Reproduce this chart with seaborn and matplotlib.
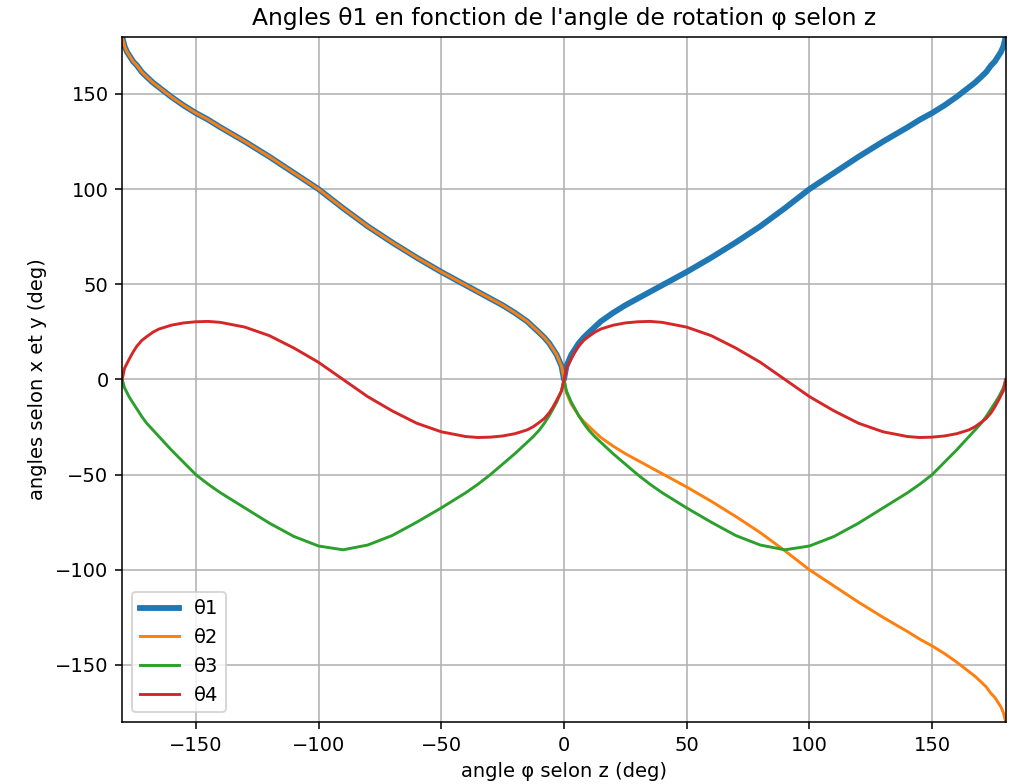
import matplotlib
matplotlib.use("Agg")
import matplotlib.pyplot as plt
import seaborn as sns

# rotation angle phi (deg), negative half and positive half
phi_neg = [-180, -179, -178, -177, -175.5, -174, -172, -170, -167.5, -165, -160, -155, -150, -145,
           -140, -130, -120, -110, -100, -90, -80, -70, -60, -50, -40, -35, -30, -25, -20, -15,
           -12.5, -10, -8, -6, -4.5, -3, -2, -1]
phi_pos = [0, 1, 2, 3, 4.5, 6, 8, 10, 12.5, 15, 20, 25, 30, 35, 40, 50, 60, 70, 80, 90, 100, 110,
           120, 130, 140, 145, 150, 155, 160, 165, 167.5, 170, 172, 174, 175.5, 177, 178, 179, 180]

theta1_neg = [180, 175, 172, 170, 167, 165, 161.5, 159, 156, 153.5, 148.5, 144, 140, 136.5, 132.5,
              125, 117, 108.5, 100, 90, 80.5, 72, 64, 56.5, 49.5, 46, 42.5, 39, 35, 30.5, 27.5,
              24.5, 22, 19, 16, 13, 10, 7]
theta1_pos = [0, 7, 10, 13, 16, 19, 22, 24.5, 27.5, 30.5, 35, 39, 42.5, 46, 49.5, 56.5, 64, 72,
              80.5, 90, 100, 108.5, 117, 125, 132.5, 136.5, 140, 144, 148.5, 153.5, 156, 159,
              161.5, 165, 167, 170, 172, 175, 180]

theta2_neg = [180, 175, 172, 170, 167, 165, 161.5, 159, 156, 153.5, 148.5, 144, 140, 136.5, 132.5,
              125, 117, 108.5, 100, 90, 80.5, 72, 64, 56.5, 49.5, 46, 42.5, 39, 35, 30.5, 27.5,
              24.5, 22, 19, 16, 13, 10, 7]
theta2_pos = [0, -7, -10, -13, -16, -19, -22, -24.5, -27.5, -30.5, -35, -39, -42.5, -46, -49.5,
              -56.5, -64, -72, -80.5, -90, -100, -108.5, -117, -125, -132.5, -136.5, -140, -144,
              -148.5, -153.5, -156, -159, -161.5, -165, -167, -170, -172, -175, -180]

theta3_neg = [0, -4.5, -7, -9.5, -12.5, -15.5, -19.5, -23, -26.5, -30, -37, -43.5, -50, -55, -59.5,
              -67.5, -75.5, -82.5, -87.5, -89.5, -87, -82, -75, -67.5, -59.5, -55, -50, -44.5,
              -39, -33, -30, -26.5, -23, -19, -15.5, -12, -9, -6]
theta3_pos = [0, -6, -9, -12, -15.5, -19, -23, -26.5, -30, -33, -39, -44.5, -50, -55, -59.5, -67.5,
              -75, -82, -87, -89.5, -87.5, -82.5, -75.5, -67.5, -59.5, -55, -50, -43.5, -37, -30,
              -26.5, -23, -19.5, -15.5, -12.5, -9.5, -7, -4.5, 0]

theta4_neg = [0, 6, 8.5, 11, 14.5, 17.5, 20.5, 22.5, 24.8, 26.5, 28.5, 29.7, 30.3, 30.5, 30, 27.5,
              23, 16.5, 9, 0, -9, -16.5, -23, -27.5, -30, -30.5, -30.3, -29.7, -28.5, -26.5,
              -24.8, -22.5, -20.5, -17.5, -14.5, -11, -8.5, -6]
theta4_pos = [0, 6, 8.5, 11, 14.5, 17.5, 20.5, 22.5, 24.8, 26.5, 28.5, 29.7, 30.3, 30.5, 30, 27.5,
              23, 16.5, 9, 0, -9, -16.5, -23, -27.5, -30, -30.5, -30.3, -29.7, -28.5, -26.5,
              -24.8, -22.5, -20.5, -17.5, -14.5, -11, -8.5, -6, 0]

labels = ["θ1", "θ2", "θ3", "θ4"]
colors = ["C0", "C1", "C2", "C3"]
widths = [3, 1.5, 1.5, 1.5]

phi = phi_neg + phi_pos
series = [theta1_neg + theta1_pos, theta2_neg + theta2_pos,
          theta3_neg + theta3_pos, theta4_neg + theta4_pos]

fig = plt.figure(figsize=(1018 / 140, 784 / 140), dpi=140)
ax = fig.add_axes([0.120, 0.079, 0.868, 0.874])

for vals, lab, col, lw in zip(series, labels, colors, widths):
    sns.lineplot(x=phi, y=vals, ax=ax, color=col, linewidth=lw, label=lab)

ax.set_xlim(-180, 180)
ax.set_ylim(-180, 180)
ax.grid(True)
ax.set_title("Angles θ1 en fonction de l'angle de rotation φ selon z")
ax.set_xlabel("angle φ selon z (deg)")
ax.set_ylabel("angles selon x et y (deg)")
ax.legend(loc="lower left")

fig.savefig("out.png", dpi=140)
